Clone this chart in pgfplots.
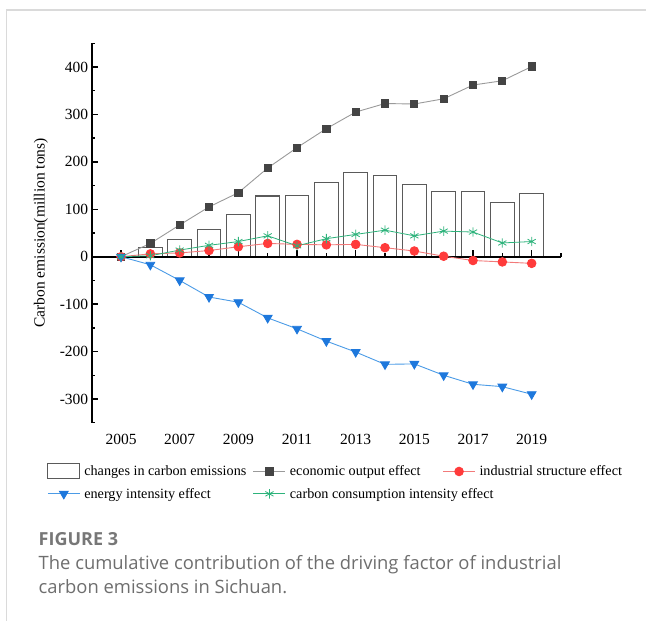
\documentclass[border=0pt]{standalone}
\usepackage{pgfplots}
\pgfplotsset{compat=1.18}
\usepackage{pgfplotstable}
\usepackage{fontspec}
\setmainfont{Liberation Serif}
\newfontfamily\capfont{Open Sans}

\definecolor{ecogray}{HTML}{444444}
\definecolor{ecoline}{HTML}{9A9A9A}
\definecolor{indred}{HTML}{FF3B3B}
\definecolor{indline}{HTML}{F27A7A}
\definecolor{enblue}{HTML}{1E78DC}
\definecolor{enline}{HTML}{4B9BE6}
\definecolor{ccgreen}{HTML}{2DB37B}
\definecolor{barline}{HTML}{5A5A5A}
\definecolor{framegray}{HTML}{DADADA}
\definecolor{capgray}{HTML}{6E6E6E}
\definecolor{capheadgray}{HTML}{777777}

% cumulative contribution of each driving factor (million tons)
\pgfplotstableread{
year change economic industrial energy carbon
2005 0   0   0   0    0
2006 19  28  6   -17  2
2007 36  67  8   -50  14
2008 57  105 13  -85  24
2009 89  135 21  -96  32
2010 128 187 28  -129 44
2011 129 230 26  -152 23
2012 156 270 25  -178 38
2013 178 305 26  -201 47
2014 172 323 19  -227 56
2015 153 322 12  -226 44
2016 138 333 1   -250 54
2017 138 362 -8  -269 52
2018 114 371 -11 -274 29
2019 133 401 -14 -290 32
}\datatable

\begin{document}
\begin{tikzpicture}
\path[use as bounding box] (0pt,0pt) rectangle (646pt,621pt);
\draw[framegray, line width=1.3pt] (6.5pt,0pt) -- (6.5pt,611pt) -- (646pt,611pt);

\begin{axis}[
  at={(91.7pt,198.3pt)}, anchor=south west,
  scale only axis, width=469.3pt, height=379.4pt,
  xmin=2004, xmax=2020, ymin=-350, ymax=450,
  axis y line*=left, axis x line*=bottom,
  x axis line style={draw=none},
  y axis line style={line width=1.8pt},
  xtick={2005,2007,...,2019},
  xticklabels={2005,2007,2009,2011,2013,2015,2017,2019},
  x tick style={draw=none},
  xticklabel style={yshift=-8pt},
  ytick={-300,-200,...,400},
  yticklabels={-300,-200,-100,0,100,200,300,400},
  minor ytick={-350,-250,...,450},
  every tick/.style={black, line width=1.4pt},
  tick align=inside,
  major tick length=6.5pt, minor tick length=3.3pt,
  ticklabel style={font=\fontsize{15.5}{18}\selectfont},
  ylabel={Carbon emission(million tons)},
  ylabel style={font=\fontsize{15.5}{18}\selectfont, at={(axis description cs:-0.108,0.5)}, anchor=center},
  clip=false,
  legend columns=3,
  legend cell align=left,
  legend style={draw=none, fill=none, at={(axis description cs:-0.095,-0.107)}, anchor=north west,
    inner sep=0pt, font=\fontsize{14.2}{16}\selectfont, row sep=8.6pt,
    nodes={inner sep=0pt},
    /tikz/every odd column/.append style={column sep=4pt}},
  legend image code/.code={\draw[mark repeat=2,mark phase=2,#1] plot coordinates {(0pt,0pt) (16pt,0pt) (32pt,0pt)};},
]
\addplot[ybar, bar width=23.5pt, draw=barline, line width=1.1pt, fill=white,
  restrict x to domain=2005.5:2020,
  legend image code/.code={\draw[barline, line width=1pt, fill=white] (0pt,-7.5pt) rectangle (32pt,7.5pt);}]
  table[x=year, y=change] {\datatable};
\addlegendentry{\makebox[168.7pt][l]{changes in carbon emissions}}

% zero line with year ticks
\draw[line width=2pt] (axis cs:2004,0) -- (axis cs:2020,0);
\pgfplotsinvokeforeach{2005,2007,...,2019}{\draw[line width=1.4pt] (axis cs:#1,0) -- ++(0pt,6.5pt);}
\pgfplotsinvokeforeach{2006,2008,...,2020}{\draw[line width=1.4pt] (axis cs:#1,0) -- ++(0pt,3.3pt);}

\addplot[color=ecoline, line width=0.9pt, mark=square*, mark size=3.6pt,
  mark options={draw=ecogray, fill=ecogray}]
  table[x=year, y=economic] {\datatable};
\addlegendentry{\makebox[152.7pt][l]{economic output effect}}

\addplot[color=indline, line width=0.9pt, mark=*, mark size=4.3pt,
  mark options={draw=indred, fill=indred}]
  table[x=year, y=industrial] {\datatable};
\addlegendentry{industrial structure effect}

\addplot[color=enline, line width=0.9pt, mark=triangle*, mark size=5pt,
  mark options={draw=enblue, fill=enblue, rotate=180}]
  table[x=year, y=energy] {\datatable};
\addlegendentry{\makebox[168.7pt][l]{energy intensity effect}}

\addplot[color=ccgreen, line width=0.8pt, mark=asterisk, mark size=4.7pt,
  mark options={draw=ccgreen, line width=0.8pt}]
  table[x=year, y=carbon] {\datatable};
\addlegendentry{\makebox[152.7pt][l]{carbon consumption intensity effect}}
\end{axis}

\node[anchor=base west, inner sep=0pt, text=capheadgray, font=\capfont\bfseries\fontsize{18}{21}\selectfont] at (38.5pt,75.3pt) {FIGURE 3};
\node[anchor=base west, inner sep=0pt, text=capgray, font=\capfont\fontsize{18.4}{22}\selectfont] at (38.5pt,51.3pt) {The cumulative contribution of the driving factor of industrial};
\node[anchor=base west, inner sep=0pt, text=capgray, font=\capfont\fontsize{18.4}{22}\selectfont] at (38.5pt,27.7pt) {carbon emissions in Sichuan.};
\end{tikzpicture}
\end{document}
